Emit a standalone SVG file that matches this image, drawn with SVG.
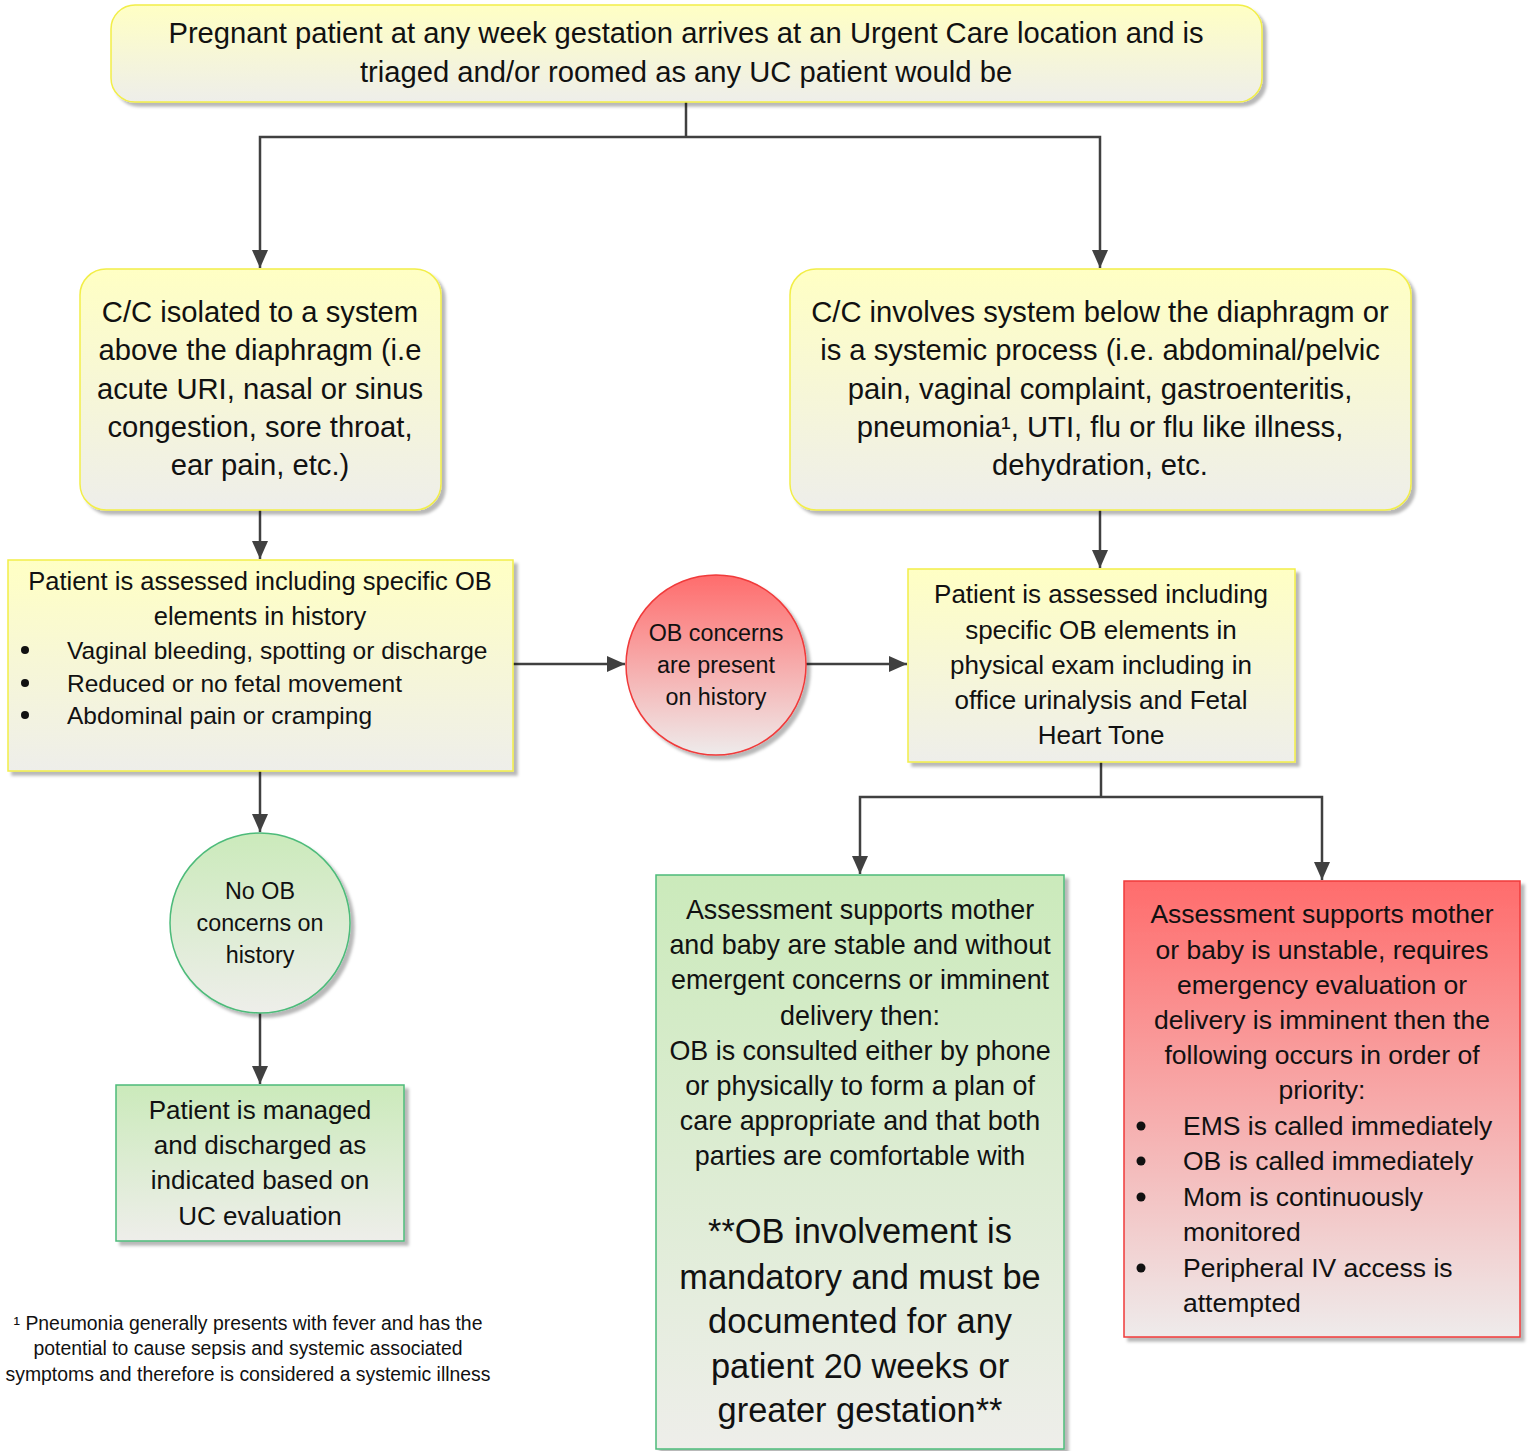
<svg xmlns="http://www.w3.org/2000/svg" width="1529" height="1451" viewBox="0 0 1529 1451">
<defs>
<linearGradient id="gY" x1="0" y1="0" x2="0" y2="1"><stop offset="0" stop-color="#FFFFC4"/><stop offset="1" stop-color="#EEEEEA"/></linearGradient>
<linearGradient id="gR" x1="0" y1="0" x2="0" y2="1"><stop offset="0" stop-color="#FF6C6C"/><stop offset="1" stop-color="#EEEBEB"/></linearGradient>
<linearGradient id="gG" x1="0" y1="0" x2="0" y2="1"><stop offset="0" stop-color="#CBEABB"/><stop offset="1" stop-color="#EEEEEA"/></linearGradient>
<filter id="sh" x="-5%" y="-5%" width="115%" height="115%"><feDropShadow dx="4" dy="4" stdDeviation="1.5" flood-color="#000" flood-opacity="0.28"/></filter>
<marker id="ah" viewBox="0 0 18 16" refX="18" refY="8" markerWidth="18" markerHeight="16" markerUnits="userSpaceOnUse" orient="auto"><path d="M0,0 L18,8 L0,16 z" fill="#404040"/></marker>
<style>
.y{fill:url(#gY);stroke:#F2EE48;stroke-width:1.5;filter:url(#sh)}
.r{fill:url(#gR);stroke:#F03A3A;stroke-width:1.5;filter:url(#sh)}
.g{fill:url(#gG);stroke:#4DBB7A;stroke-width:1.5;filter:url(#sh)}
text{font-family:"Liberation Sans",Arial,sans-serif;fill:#111}
.c{text-anchor:middle}
.f29{font-size:29.2px}.f26{font-size:26px}.f25{font-size:25.5px}.f24{font-size:24.5px}.f23{font-size:23.3px}.f34{font-size:34.4px}.f19{font-size:19.4px}.f265{font-size:26.5px}.f27{font-size:26.9px}
.e{fill:none;stroke:#404040;stroke-width:2.5;marker-end:url(#ah)}
.l{fill:none;stroke:#404040;stroke-width:2.5}
</style>
</defs>
<g id="connectors">
<path class="l" d="M686,102 V137"/>
<path class="e" d="M686,137 H260 V268"/>
<path class="e" d="M686,137 H1100 V268"/>
<path class="e" d="M260,510 V559"/>
<path class="e" d="M1100,510 V568"/>
<path class="e" d="M513,664 H625"/>
<path class="e" d="M806,664 H907"/>
<path class="e" d="M260,771 V832"/>
<path class="e" d="M260,1013 V1084"/>
<path class="l" d="M1101,762 V797"/>
<path class="e" d="M1101,797 H860 V874"/>
<path class="e" d="M1101,797 H1322 V880"/>
</g>
<g id="n1">
<rect class="y" x="111" y="5" width="1151" height="97" rx="24"/>
<text class="c f29" x="686"><tspan x="686" y="43">Pregnant patient at any week gestation arrives at an Urgent Care location and is</tspan><tspan x="686" y="82">triaged and/or roomed as any UC patient would be</tspan></text>
</g>
<g id="n2">
<rect class="y" x="80" y="269" width="361" height="241" rx="26"/>
<text class="c f29"><tspan x="260" y="322">C/C isolated to a system</tspan><tspan x="260" y="360">above the diaphragm (i.e</tspan><tspan x="260" y="399">acute URI, nasal or sinus</tspan><tspan x="260" y="437">congestion, sore throat,</tspan><tspan x="260" y="475">ear pain, etc.)</tspan></text>
</g>
<g id="n3">
<rect class="y" x="790" y="269" width="621" height="241" rx="26"/>
<text class="c f29"><tspan x="1100" y="322">C/C involves system below the diaphragm or</tspan><tspan x="1100" y="360">is a systemic process (i.e. abdominal/pelvic</tspan><tspan x="1100" y="399">pain, vaginal complaint, gastroenteritis,</tspan><tspan x="1100" y="437">pneumonia¹, UTI, flu or flu like illness,</tspan><tspan x="1100" y="475">dehydration, etc.</tspan></text>
</g>
<g id="n4">
<rect class="y" x="8" y="560" width="505" height="211"/>
<text class="c f25"><tspan x="260" y="590">Patient is assessed including specific OB</tspan><tspan x="260" y="625">elements in history</tspan></text>
<circle cx="25" cy="650" r="4" fill="#111"/><circle cx="25" cy="683" r="4" fill="#111"/><circle cx="25" cy="715" r="4" fill="#111"/>
<text class="f24"><tspan x="67" y="659">Vaginal bleeding, spotting or discharge</tspan><tspan x="67" y="692">Reduced or no fetal movement</tspan><tspan x="67" y="724">Abdominal pain or cramping</tspan></text>
</g>
<g id="n5">
<circle class="r" cx="716" cy="665" r="90"/>
<text class="c f23"><tspan x="716" y="641">OB concerns</tspan><tspan x="716" y="673">are present</tspan><tspan x="716" y="705">on history</tspan></text>
</g>
<g id="n6">
<rect class="y" x="908" y="569" width="387" height="193"/>
<text class="c f26"><tspan x="1101" y="603">Patient is assessed including</tspan><tspan x="1101" y="639">specific OB elements in</tspan><tspan x="1101" y="674">physical exam including in</tspan><tspan x="1101" y="709">office urinalysis and Fetal</tspan><tspan x="1101" y="744">Heart Tone</tspan></text>
</g>
<g id="n7">
<circle class="g" cx="260" cy="923" r="90"/>
<text class="c f23"><tspan x="260" y="899">No OB</tspan><tspan x="260" y="931">concerns on</tspan><tspan x="260" y="963">history</tspan></text>
</g>
<g id="n8">
<rect class="g" x="116" y="1085" width="288" height="156"/>
<text class="c f26"><tspan x="260" y="1119">Patient is managed</tspan><tspan x="260" y="1154">and discharged as</tspan><tspan x="260" y="1189">indicated based on</tspan><tspan x="260" y="1225">UC evaluation</tspan></text>
</g>
<g id="n9">
<rect class="g" x="656" y="875" width="408" height="574"/>
<text class="c f27"><tspan x="860" y="919">Assessment supports mother</tspan><tspan x="860" y="954">and baby are stable and without</tspan><tspan x="860" y="989">emergent concerns or imminent</tspan><tspan x="860" y="1025">delivery then:</tspan><tspan x="860" y="1060">OB is consulted either by phone</tspan><tspan x="860" y="1095">or physically to form a plan of</tspan><tspan x="860" y="1130">care appropriate and that both</tspan><tspan x="860" y="1165">parties are comfortable with</tspan></text>
<text class="c f34"><tspan x="860" y="1243">**OB involvement is</tspan><tspan x="860" y="1289">mandatory and must be</tspan><tspan x="860" y="1333">documented for any</tspan><tspan x="860" y="1378">patient 20 weeks or</tspan><tspan x="860" y="1422">greater gestation**</tspan></text>
</g>
<g id="n10">
<rect class="r" x="1124" y="881" width="396" height="456"/>
<text class="c f265"><tspan x="1322" y="923">Assessment supports mother</tspan><tspan x="1322" y="959">or baby is unstable, requires</tspan><tspan x="1322" y="994">emergency evaluation or</tspan><tspan x="1322" y="1029">delivery is imminent then the</tspan><tspan x="1322" y="1064">following occurs in order of</tspan><tspan x="1322" y="1099">priority:</tspan></text>
<circle cx="1141" cy="1126" r="4.5" fill="#111"/><circle cx="1141" cy="1161" r="4.5" fill="#111"/><circle cx="1141" cy="1197" r="4.5" fill="#111"/><circle cx="1141" cy="1268" r="4.5" fill="#111"/>
<text class="f265"><tspan x="1183" y="1135">EMS is called immediately</tspan><tspan x="1183" y="1170">OB is called immediately</tspan><tspan x="1183" y="1206">Mom is continuously</tspan><tspan x="1183" y="1241">monitored</tspan><tspan x="1183" y="1277">Peripheral IV access is</tspan><tspan x="1183" y="1312">attempted</tspan></text>
</g>
<g id="footnote">
<text class="c f19"><tspan x="248" y="1330">¹ Pneumonia generally presents with fever and has the</tspan><tspan x="248" y="1355">potential to cause sepsis and systemic associated</tspan><tspan x="248" y="1381">symptoms and therefore is considered a systemic illness</tspan></text>
</g>
</svg>
